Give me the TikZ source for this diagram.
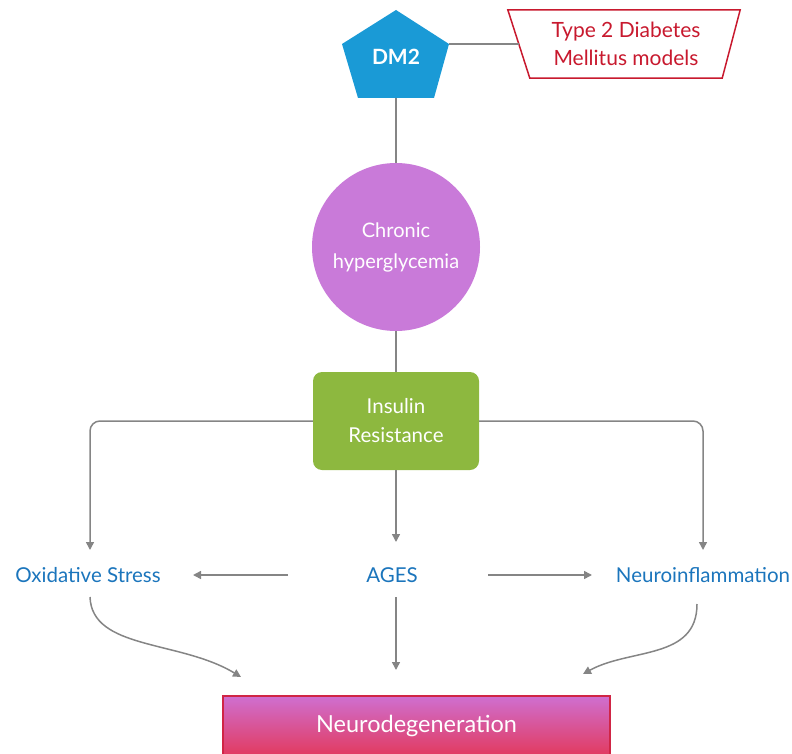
\documentclass[tikz,border=0pt]{standalone}
\usepackage{fontspec}
\setmainfont{Lato}
\usetikzlibrary{arrows.meta,shapes.geometric}
\definecolor{dmblue}{HTML}{1A9AD6}
\definecolor{orchidc}{HTML}{C97AD9}
\definecolor{insgreen}{HTML}{8DB83F}
\definecolor{txtblue}{HTML}{1B75BC}
\definecolor{redc}{HTML}{C8192E}
\definecolor{linegray}{HTML}{858585}
\definecolor{ndtop}{HTML}{CF6FD0}
\definecolor{ndbot}{HTML}{E23A5E}
\definecolor{ndborder}{HTML}{D02545}
\tikzset{
  conn/.style={draw=linegray, line width=1.5pt},
  arr/.style={conn, -{Triangle[length=8pt,width=8pt]}},
  lbl/.style={text=txtblue, font=\fontsize{20.5}{24}\selectfont, inner sep=0pt},
  wtxt/.style={text=white, align=center}
}
\begin{document}
\begin{tikzpicture}[x=1pt,y=-1pt]
\useasboundingbox (0,0) rectangle (792,754);
% DM2 pentagon
\coordinate (pt) at (396,10);
\coordinate (pl) at (342,44);
\coordinate (pr) at (449,44);
\coordinate (pbl) at (358,98);
\coordinate (pbr) at (434,98);
\coordinate (pb) at (396,98);
\fill[dmblue] (pt) -- (pr) -- (pbr) -- (pbl) -- (pl) -- cycle;
\node[wtxt, font=\fontsize{21}{24}\selectfont\bfseries] (dm) at (396,57) {DM2};
% trapezoid
\node[inner sep=0pt, minimum width=232pt, minimum height=68pt] (tz) at (624,44) {};
\draw[draw=redc, line width=1.5pt, fill=white] (tz.north west) -- (tz.north east) -- ([xshift=-18pt]tz.south east) -- ([xshift=22pt]tz.south west) -- cycle;
\node[text=redc, align=center, font=\fontsize{21}{28}\selectfont] (tzt) at ([xshift=2pt]tz.center) {Type 2 Diabetes\\Mellitus models};
\coordinate (tzl) at ([xshift=11pt]tz.west);
\draw[conn] (pr) -- (tzl);
% circle
\node[circle, fill=orchidc, minimum size=168pt, inner sep=0pt, wtxt, font=\fontsize{20}{31}\selectfont] (ch) at (396,247) {Chronic\\hyperglycemia};
\draw[conn] (pb) -- (ch.north);
% insulin
\node[rectangle, rounded corners=9pt, fill=insgreen, minimum width=166pt, minimum height=98pt, wtxt, font=\fontsize{20.5}{29}\selectfont] (ir) at (396,421) {Insulin\\Resistance};
\draw[conn] (ch.south) -- (ir.north);
% labels
\node[lbl] (ox) at (88,575) {Oxidative Stress};
\node[lbl] (ag) at (392,575) {AGES};
\node[lbl] (ni) at (703,575) {Neuroinflammation};
% arrows from insulin
\coordinate (oxt) at (90,550);
\coordinate (nit) at (703,550);
\coordinate (agt) at (396,542);
\draw[arr, rounded corners=10pt] (ir.west) -| (oxt);
\draw[arr, rounded corners=10pt] (ir.east) -| (nit);
\draw[arr] (ir.south) -- (agt);
% AGES side arrows
\coordinate (agl) at (288,575);
\coordinate (agr) at (488,575);
\coordinate (oxr) at (193,575);
\coordinate (nil) at (592,575);
\draw[arr] (agl) -- (oxr);
\draw[arr] (agr) -- (nil);
% Neurodegeneration box
\node[rectangle, top color=ndtop, bottom color=ndbot, draw=ndborder, line width=1.2pt, minimum width=387pt, minimum height=60pt, wtxt, font=\fontsize{23.5}{26}\selectfont] (nd) at (416.5,726) {Neurodegeneration};
% lower arrows
\coordinate (oxs) at (90,597);
\coordinate (ags) at (396,597);
\coordinate (nis) at (697,604);
\coordinate (e1) at (241,677);
\coordinate (e2) at (396,670);
\coordinate (e3) at (583,674);
\draw[arr] (oxs) .. controls (92,650) and (180,640) .. (e1);
\draw[arr] (ags) -- (e2);
\draw[arr] (nis) .. controls (697,660) and (630,648) .. (e3);
\end{tikzpicture}
\end{document}
